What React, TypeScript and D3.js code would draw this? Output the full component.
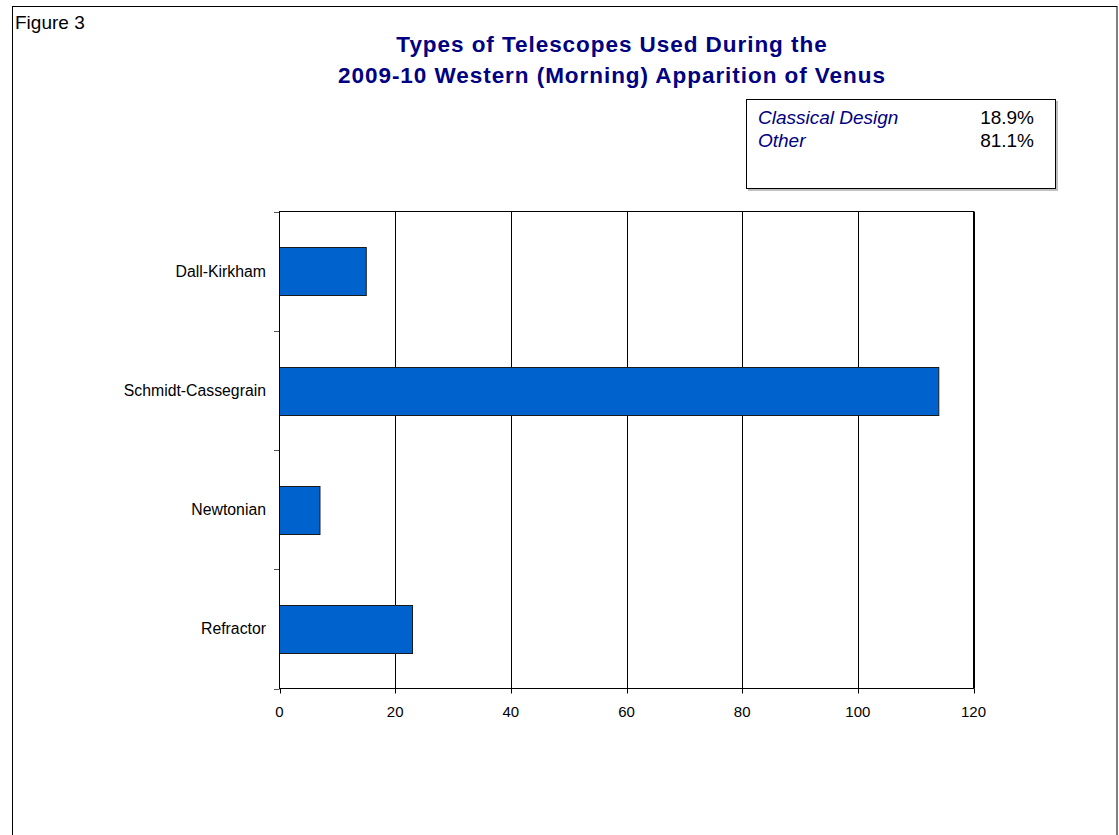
import React from "react";
import * as d3 from "d3";

const categories = ["Dall-Kirkham", "Schmidt-Cassegrain", "Newtonian", "Refractor"];
const counts = [15, 114, 7, 23];
const xTicks = [0, 20, 40, 60, 80, 100, 120];
const legendLabels = ["Classical Design", "Other"];
const legendValues = ["18.9%", "81.1%"];
const titleLines = ["Types of Telescopes Used During the", "2009-10 Western (Morning) Apparition of Venus"];

export default function App() {
  const W = 1119, H = 835;
  const left = 279.5, right = 973.5, top = 211.5, bottom = 688.5;
  const x = d3.scaleLinear().domain([0, 120]).range([left, right]);
  const y = d3.scaleBand<string>().domain(categories).range([top, bottom]).paddingInner(0.6).paddingOuter(0.3);
  const step = (bottom - top) / categories.length;
  const font = "Arial, 'Liberation Sans', sans-serif";
  return (
    <svg width={W} height={H} style={{ position: "absolute", left: 0, top: 0, background: "#fff" }} fontFamily={font}>
      <rect x={12.5} y={6.5} width={1104.5} height={860} fill="#fff" stroke="#000" strokeWidth={1} />
      <text x={15} y={29} fontSize={19} fill="#000">Figure 3</text>
      {titleLines.map((t, i) => (
        <text key={i} x={612} y={52 + i * 31} textAnchor="middle" fontSize={22.5} letterSpacing={0.95} fontWeight="bold" fill="#000080">{t}</text>
      ))}
      <rect x={748} y={101} width={310} height={90} fill="#c0c0c0" />
      <rect x={746.5} y={99.5} width={309} height={89} fill="#fff" stroke="#000" strokeWidth={1} />
      {legendLabels.map((l, i) => (
        <g key={l}>
          <text x={758} y={124 + i * 23} fontSize={19} fontStyle="italic" fill="#000080">{l}</text>
          <text x={1034} y={124 + i * 23} fontSize={19} textAnchor="end" fill="#000">{legendValues[i]}</text>
        </g>
      ))}
      {/* plot area */}
      <rect x={left} y={top} width={right - left} height={bottom - top} fill="#fff" stroke="#000" strokeWidth={1} />
      {xTicks.slice(1).map((t) => (
        <line key={t} x1={Math.round(x(t)) + 0.5} x2={Math.round(x(t)) + 0.5} y1={top} y2={bottom} stroke="#000" strokeWidth={1} />
      ))}
      {categories.map((c, i) => (
        <rect key={c} x={left} y={Math.round(y(c)!) + 0.5} width={x(counts[i]) - left} height={Math.round(y.bandwidth())}
          fill="#0062CC" stroke="#1a1a1a" strokeWidth={1} />
      ))}
      {/* category axis ticks */}
      {d3.range(categories.length + 1).map((i) => (
        <line key={i} x1={274} x2={left} y1={Math.round(top + i * step) + 0.5} y2={Math.round(top + i * step) + 0.5} stroke="#555" strokeWidth={1} />
      ))}
      <line x1={left} x2={left} y1={top} y2={bottom} stroke="#000" />
      {categories.map((c) => (
        <text key={c} x={266} y={y(c)! + y.bandwidth() / 2 + 5.5} textAnchor="end" fontSize={15.8} fill="#000">{c}</text>
      ))}
      {/* value axis */}
      <line x1={left} x2={right} y1={bottom} y2={bottom} stroke="#000" />
      {xTicks.map((t) => (
        <g key={t}>
          <line x1={Math.round(x(t)) + 0.5} x2={Math.round(x(t)) + 0.5} y1={bottom} y2={bottom + 5} stroke="#000" />
          <text x={x(t)} y={716.5} textAnchor="middle" fontSize={15} fill="#000">{t}</text>
        </g>
      ))}
    </svg>
  );
}
